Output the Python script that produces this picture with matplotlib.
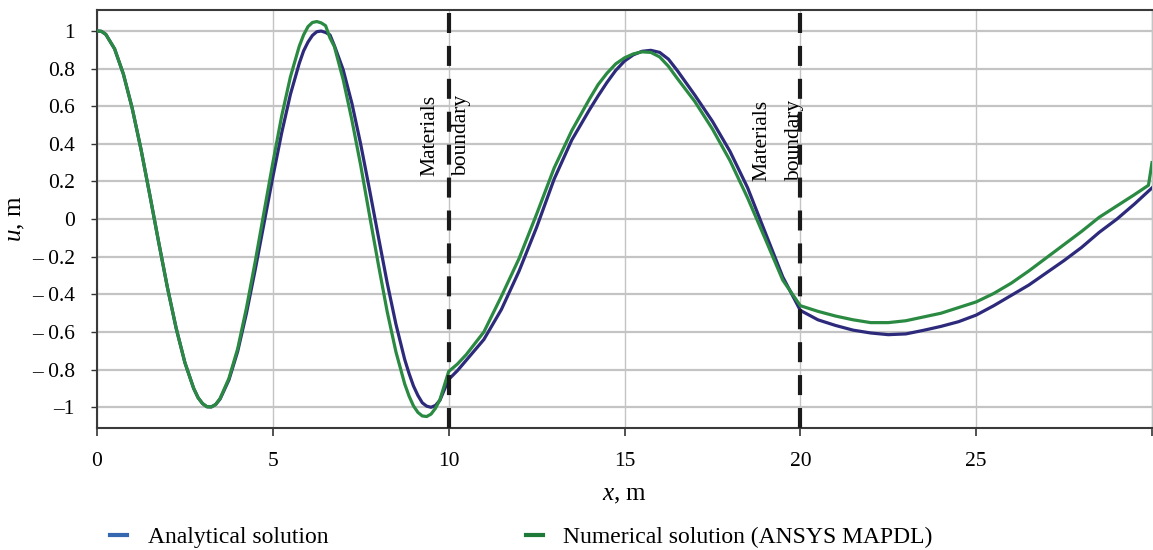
import matplotlib
matplotlib.use("Agg")
import matplotlib.pyplot as plt
from matplotlib.lines import Line2D

plt.rcParams['font.family'] = ['Liberation Serif', 'DejaVu Serif']
plt.rcParams['mathtext.fontset'] = 'custom'
plt.rcParams['mathtext.it'] = 'Liberation Serif:italic'
plt.rcParams['mathtext.rm'] = 'Liberation Serif'

# ---------------- data ----------------
x_analytical = [0.0, 0.125, 0.25, 0.5, 0.75, 1.0, 1.25, 1.5, 1.75, 2.0, 2.25, 2.5, 2.75,
                2.875, 3.0, 3.125, 3.25, 3.375, 3.5, 3.75, 4.0, 4.25, 4.5, 4.75, 5.0,
                5.25, 5.5, 5.75, 5.875, 6.0, 6.125, 6.25, 6.375, 6.5, 6.625, 6.75,
                7.0, 7.25, 7.5, 7.75, 8.0, 8.25, 8.5, 8.75, 8.875, 9.0, 9.125, 9.25,
                9.375, 9.5, 9.625, 9.75, 10.0,
                10.25, 10.5, 11.0, 11.5, 12.0, 12.5, 13.0, 13.5, 14.0, 14.25, 14.5, 14.75,
                15.0, 15.25, 15.5, 15.75, 16.0, 16.25, 16.5, 17.0, 17.5, 18.0, 18.5,
                19.0, 19.5, 20.0,
                20.5, 21.0, 21.5, 22.0, 22.5, 23.0, 23.5, 24.0, 24.5, 25.0, 25.5,
                26.0, 26.5, 27.0, 27.5, 28.0, 28.5, 29.0, 29.5, 30.0]
u_analytical = [1.0, 0.998, 0.982, 0.905, 0.771, 0.590, 0.372, 0.130, -0.119, -0.361,
                -0.579, -0.763, -0.900, -0.949, -0.980, -0.997, -0.998, -0.985, -0.956,
                -0.855, -0.703, -0.500, -0.268, -0.022, 0.224, 0.457, 0.663, 0.827,
                0.894, 0.941, 0.976, 0.996, 0.9995, 0.992, 0.979, 0.922, 0.794,
                0.614, 0.397, 0.156, -0.092, -0.337, -0.558, -0.746, -0.821, -0.887,
                -0.937, -0.976, -0.994, -1.0, -0.990, -0.963, -0.852,
                -0.805, -0.75, -0.64, -0.48, -0.277, -0.044, 0.213, 0.42, 0.58, 0.655,
                0.726, 0.79, 0.84, 0.873, 0.892, 0.897, 0.886, 0.85, 0.79, 0.659, 0.52,
                0.36, 0.167, -0.07, -0.307, -0.485,
                -0.535, -0.565, -0.59, -0.605, -0.614, -0.61, -0.591, -0.57, -0.545,
                -0.51, -0.46, -0.405, -0.35, -0.285, -0.22, -0.15, -0.07, 0.0, 0.08, 0.166]

x_numerical = [0.0, 0.125, 0.25, 0.5, 0.75, 1.0, 1.25, 1.5, 1.75, 2.0, 2.25, 2.5, 2.75,
               2.875, 3.0, 3.125, 3.25, 3.375, 3.5, 3.75, 4.0, 4.25, 4.5, 4.75, 5.0,
               5.25, 5.5, 5.75, 5.875, 6.0, 6.125, 6.25, 6.375, 6.5, 6.625, 6.75,
               7.0, 7.25, 7.5, 7.75, 8.0, 8.25, 8.5, 8.75, 8.875, 9.0, 9.125, 9.25,
               9.375, 9.5, 9.625, 9.75, 10.0,
               10.25, 10.5, 11.0, 11.5, 12.0, 12.5, 13.0, 13.5, 14.0, 14.25, 14.5, 14.75,
               15.0, 15.25, 15.5, 15.75, 16.0, 16.25, 16.5, 17.0, 17.5, 18.0, 18.5,
               19.0, 19.5, 20.0,
               20.5, 21.0, 21.5, 22.0, 22.5, 23.0, 23.5, 24.0, 24.5, 25.0, 25.5,
               26.0, 26.5, 27.0, 27.5, 28.0, 28.5, 29.0, 29.5, 29.9, 30.0]
u_numerical = [1.0, 0.998, 0.982, 0.905, 0.771, 0.590, 0.372, 0.130, -0.119, -0.361,
               -0.579, -0.763, -0.900, -0.949, -0.980, -0.997, -0.998, -0.985, -0.953,
               -0.847, -0.689, -0.472, -0.225, 0.038, 0.299, 0.546, 0.756, 0.918,
               0.979, 1.023, 1.045, 1.05, 1.043, 1.028, 0.963, 0.917, 0.742,
               0.525, 0.284, 0.020, -0.240, -0.490, -0.705, -0.876, -0.941, -0.993,
               -1.027, -1.046, -1.049, -1.036, -1.005, -0.96, -0.81,
               -0.77, -0.72, -0.60, -0.41, -0.21, 0.026, 0.272, 0.47, 0.637, 0.715,
               0.775, 0.825, 0.857, 0.878, 0.889, 0.886, 0.862, 0.812, 0.748, 0.625,
               0.479, 0.311, 0.113, -0.104, -0.324, -0.46,
               -0.49, -0.515, -0.535, -0.55, -0.55, -0.54, -0.52, -0.50, -0.47, -0.44,
               -0.395, -0.34, -0.275, -0.205, -0.135, -0.065, 0.01, 0.07, 0.13, 0.18, 0.30]

boundaries = [10, 20]
x_ticks = [0, 5, 10, 15, 20, 25]
y_ticks = [-1.0, -0.8, -0.6, -0.4, -0.2, 0.0, 0.2, 0.4, 0.6, 0.8, 1.0]
y_tick_labels = ['\u20131', '\u2013 0.8', '\u2013 0.6', '\u2013 0.4', '\u2013 0.2', '0',
                 '0.2', '0.4', '0.6', '0.8', '1']
series_labels = ['Analytical solution', 'Numerical solution (ANSYS MAPDL)']

# ---------------- figure ----------------
W, H = 1153, 550
fig = plt.figure(figsize=(W / 100, H / 100), dpi=100)
ax = fig.add_axes([97 / W, 1 - 428 / H, (1152 - 97) / W, (428 - 9.5) / H])

c_an = '#2d2a7c'
c_num = '#2a8a42'

ax.plot(x_analytical, u_analytical, color=c_an, lw=2.3, zorder=3,
        solid_joinstyle='round')
ax.plot(x_numerical, u_numerical, color=c_num, lw=2.3, zorder=4,
        solid_joinstyle='round')

for b in boundaries:
    ax.axvline(b, color='#1a1a1a', lw=3.0, ls=(0, (4.8, 3.1)), zorder=5)

ax.text(9.47, 0.23, 'Materials', rotation=90, ha='center', va='bottom', fontsize=15.5, zorder=6)
ax.text(10.37, 0.23, 'boundary', rotation=90, ha='center', va='bottom', fontsize=15.5, zorder=6)
ax.text(18.9, 0.2, 'Materials', rotation=90, ha='center', va='bottom', fontsize=15.5, zorder=6)
ax.text(19.83, 0.2, 'boundary', rotation=90, ha='center', va='bottom', fontsize=15.5, zorder=6)

ax.set_xlim(0, 30)
ax.set_ylim(-1.11, 1.114)
ax.set_xticks(x_ticks)
ax.set_xticklabels([str(t) for t in x_ticks], fontsize=15.5)
ax.set_yticks(y_ticks)
ax.set_yticklabels(y_tick_labels, fontsize=15.5)
ax.set_xticks([30], minor=True)
ax.tick_params(axis='x', which='both', direction='out', length=6, width=1.2, pad=11,
               colors='#333333', labelcolor='black')
ax.tick_params(axis='y', direction='out', length=4, width=1.0, pad=12,
               colors='#333333', labelcolor='black')

ax.grid(True, axis='y', color='#c4c4c4', lw=1.6, zorder=0)
ax.grid(True, axis='x', which='both', color='#c4c4c4', lw=1.0, zorder=0)
ax.set_axisbelow(True)

for side in ['left', 'bottom', 'top']:
    ax.spines[side].set_color('#3a3a3a')
    ax.spines[side].set_linewidth(1.5)
ax.spines['right'].set_color('#c4c4c4')
ax.spines['right'].set_linewidth(1.0)

ax.set_xlabel('$x$, m', fontsize=18, labelpad=10)
ax.set_ylabel('$u$, m', fontsize=18, labelpad=3)

handles = [Line2D([], [], color='#3568b0', lw=3),
           Line2D([], [], color='#1f7a3a', lw=3)]
fig.legend(handles, series_labels, loc='center left', bbox_to_anchor=(101 / W, 1 - 537 / H),
           ncol=2, frameon=False, fontsize=17, handlelength=0.72, handletextpad=0.85,
           columnspacing=8.4, borderaxespad=0)

fig.savefig('out.png', dpi=100)
